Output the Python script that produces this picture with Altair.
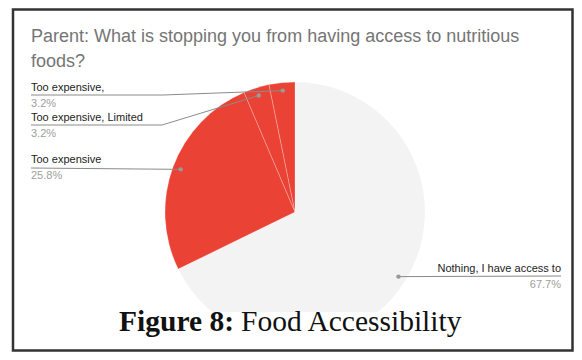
import math
import altair as alt
import pandas as pd

# ---------------- data ----------------
categories = ["Nothing, I have access to", "Too expensive", "Too expensive, Limited", "Too expensive,"]
shares = [67.7, 25.8, 3.2, 3.2]
pct_labels = ["67.7%", "25.8%", "3.2%", "3.2%"]
slice_colors = ["#f3f3f3", "#ea4335", "#ea4335", "#ea4335"]
title_lines = ["Parent: What is stopping you from having access to nutritious", "foods?"]
caption_bold = "Figure 8:"
caption_rest = "Food Accessibility"

# ---------------- layout ----------------
W, H = 566, 344
CX, CY, R = 287, 204, 130
DOT_R = 122
# per category: text anchor x, name baseline y, alignment, underline y, elbow x
label_x = [553, 23, 23, 23]
label_y = [264, 155, 113, 83]
label_align = ["right", "left", "left", "left"]
line_y = [268, 160, 117, 87]
elbow_x = [None, None, 154, 155]
PCT_DY = 16

# dot positions at slice mid-angles (pie starts at 12 o'clock, clockwise)
total = sum(shares)
dots = []
cum = 0.0
for s in shares:
    a = (cum + s / 2) / total * 2 * math.pi
    dots.append((CX + DOT_R * math.sin(a), CY - DOT_R * math.cos(a)))
    cum += s

# ---------------- layers ----------------
pie_df = pd.DataFrame({"category": categories, "share": shares, "order": list(range(len(shares)))})
pie = alt.Chart(pie_df).mark_arc(
    outerRadius=R, stroke="#ffffff", strokeWidth=0.6, strokeOpacity=0.4
).encode(
    theta=alt.Theta("share:Q", stack=True),
    color=alt.Color("category:N", scale=alt.Scale(domain=categories, range=slice_colors), legend=None),
    order=alt.Order("order:Q"),
    x=alt.value(CX),
    y=alt.value(CY),
)

# leader lines
rows = []
for i, cat in enumerate(categories):
    pts = [(label_x[i], line_y[i])]
    if elbow_x[i] is not None:
        pts.append((elbow_x[i], line_y[i]))
    pts.append(dots[i])
    for k, (px, py) in enumerate(pts):
        rows.append({"category": cat, "k": k, "px": px, "py": py})
lines_df = pd.DataFrame(rows)
leaders = alt.Chart(lines_df).mark_line(color="#8a8a8a", strokeWidth=1).encode(
    x=alt.X("px:Q", scale=None),
    y=alt.Y("py:Q", scale=None),
    detail="category:N",
    order="k:Q",
)

dots_df = pd.DataFrame({"category": categories,
                        "px": [d[0] for d in dots], "py": [d[1] for d in dots]})
dot_layer = alt.Chart(dots_df).mark_circle(color="#999999", opacity=1, size=20).encode(
    x=alt.X("px:Q", scale=None), y=alt.Y("py:Q", scale=None)
)

lab_df = pd.DataFrame({
    "name": categories, "pct": pct_labels,
    "x": label_x, "y": label_y,
    "y2": [v + PCT_DY for v in label_y],
    "align": label_align,
})


def label_layers(align):
    d = lab_df[lab_df["align"] == align]
    name = alt.Chart(d).mark_text(
        align=align, baseline="alphabetic", font="Liberation Sans", fontSize=11, color="#222222"
    ).encode(x=alt.X("x:Q", scale=None), y=alt.Y("y:Q", scale=None), text="name:N")
    pct = alt.Chart(d).mark_text(
        align=align, baseline="alphabetic", font="Liberation Sans", fontSize=11, color="#9e9e9e"
    ).encode(x=alt.X("x:Q", scale=None), y=alt.Y("y2:Q", scale=None), text="pct:N")
    return [name, pct]


title_df = pd.DataFrame({"t": title_lines, "x": [23, 23], "y": [34, 59]})
title = alt.Chart(title_df).mark_text(
    align="left", baseline="alphabetic", font="Liberation Sans", fontSize=18, color="#757575"
).encode(x=alt.X("x:Q", scale=None), y=alt.Y("y:Q", scale=None), text="t:N")

one = pd.DataFrame({"a": [0]})
band = alt.Chart(one).mark_rect(color="#ffffff").encode(
    x=alt.value(7), x2=alt.value(562), y=alt.value(304), y2=alt.value(H - 3)
)

cap_df = pd.DataFrame({"t": [caption_bold, caption_rest], "x": [226, 233], "y": [323, 323]})
cap_bold = alt.Chart(cap_df.iloc[[0]]).mark_text(
    align="right", baseline="alphabetic", font="Liberation Serif", fontSize=29.5,
    fontWeight="bold", color="#111111"
).encode(x=alt.X("x:Q", scale=None), y=alt.Y("y:Q", scale=None), text="t:N")
cap_rest = alt.Chart(cap_df.iloc[[1]]).mark_text(
    align="left", baseline="alphabetic", font="Liberation Serif", fontSize=29.5,
    color="#111111"
).encode(x=alt.X("x:Q", scale=None), y=alt.Y("y:Q", scale=None), text="t:N")

border = alt.Chart(one).mark_rect(fillOpacity=0, stroke="#333333", strokeWidth=2.5).encode(
    x=alt.value(5), x2=alt.value(564.5), y=alt.value(1.5), y2=alt.value(H - 1.5)
)

chart = alt.layer(
    pie, leaders, dot_layer, title,
    *label_layers("left"), *label_layers("right"),
    band, cap_bold, cap_rest, border,
).properties(
    width=W, height=H, padding=0, autosize=alt.AutoSizeParams(type="none"),
    background="#ffffff",
).configure_view(stroke=None).resolve_scale(color="independent")

chart.save("out.html", embed_options={"renderer": "svg", "actions": False})
